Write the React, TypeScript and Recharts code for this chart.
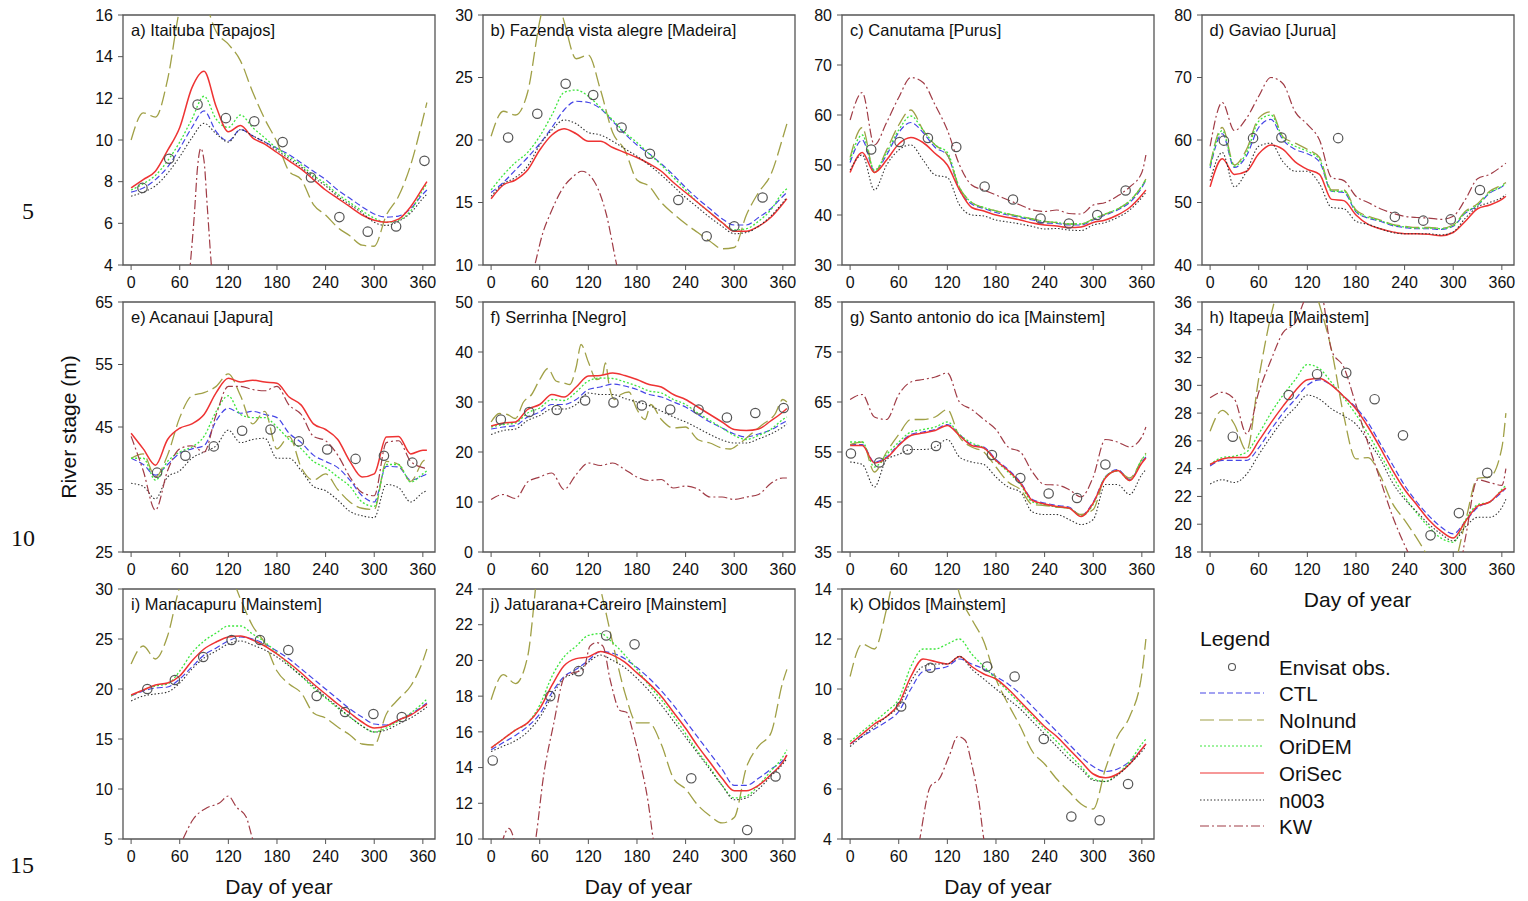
import { ComposedChart, Line, ReferenceArea, Scatter, XAxis, YAxis } from 'recharts'

// day-of-year grid shared by most simulated series
const DAYS = [0, 15, 30, 45, 60, 75, 90, 105, 120, 135, 150, 165, 180, 195, 210, 225, 240, 255, 270, 285, 300, 315, 330, 345, 360, 365]
const X_TICKS = [0, 60, 120, 180, 240, 300, 360]

// a) Itaituba [Tapajos]
const A_CTL = [7.5, 7.7, 8.1, 8.7, 9.6, 10.6, 11.4, 10.4, 9.95, 10.5, 10.2, 9.9, 9.6, 9.3, 8.9, 8.5, 8.1, 7.6, 7.2, 6.8, 6.45, 6.3, 6.35, 6.7, 7.4, 7.6]
const A_NOINUND = [10.0, 11.3, 11.1, 12.9, 16.3, 18.0, 16.8, 15.2, 14.6, 13.8, 12.3, 11.0, 9.9, 8.5, 8.1, 6.9, 6.4, 5.8, 5.4, 4.95, 4.9, 6.4, 7.3, 8.8, 11.0, 11.8]
const A_ORIDEM = [7.6, 7.9, 8.3, 9.0, 9.9, 11.0, 12.1, 11.0, 10.6, 11.2, 10.6, 10.1, 9.6, 9.2, 8.8, 8.3, 7.9, 7.4, 7.0, 6.6, 6.25, 6.05, 6.15, 6.6, 7.6, 7.9]
const A_ORISEC = [7.7, 8.1, 8.5, 9.5, 10.6, 12.5, 13.3, 11.6, 10.4, 10.7, 10.1, 9.8, 9.4, 9.0, 8.6, 8.1, 7.6, 7.2, 6.8, 6.4, 6.15, 6.05, 6.2, 6.8, 7.7, 8.0]
const A_N003 = [7.3, 7.5, 7.8, 8.4, 9.2, 10.1, 10.8, 10.3, 9.9, 10.5, 10.2, 9.9, 9.5, 9.1, 8.7, 8.2, 7.8, 7.3, 6.9, 6.5, 6.05, 5.9, 6.1, 6.5, 7.2, 7.4]
const A_KW_DAYS = [66, 73, 78, 82, 86, 90, 94, 99, 106]
const A_KW = [1, 4.0, 6.4, 8.7, 9.6, 9.0, 6.8, 4.0, 1]
const A_OBS_DAYS = [14, 47, 82, 117, 152, 187, 222, 257, 292, 327, 362]
const A_OBS = [7.7, 9.1, 11.7, 11.05, 10.9, 9.9, 8.2, 6.3, 5.6, 5.85, 9.0]

// b) Fazenda vista alegre [Madeira]
const B_CTL = [15.8, 16.6, 17.6, 18.6, 19.7, 21.0, 22.4, 23.1, 23.0, 22.5, 21.5, 20.5, 19.6, 18.9, 18.1, 17.2, 16.2, 15.3, 14.5, 13.7, 13.2, 13.2, 13.8, 14.5, 15.5, 15.8]
const B_NOINUND = [20.3, 22.3, 22.0, 23.8, 29.5, 33.0, 29.5, 26.5, 26.8, 24.0, 20.6, 19.2, 16.8, 16.3, 15.0, 14.1, 13.3, 12.6, 11.9, 11.3, 11.4, 14.0, 15.8, 17.2, 20.2, 21.3]
const B_ORIDEM = [16.0, 17.2, 18.2, 19.0, 20.3, 22.0, 23.8, 24.0, 23.5, 22.6, 21.6, 20.6, 19.8, 18.9, 18.0, 17.0, 16.0, 15.0, 14.2, 13.4, 12.8, 12.9, 13.5, 14.4, 15.8, 16.1]
const B_ORISEC = [15.3, 16.4, 16.8, 17.6, 19.2, 20.4, 20.9, 20.5, 19.9, 19.9, 19.4, 19.0, 18.6, 18.1, 17.5, 16.6, 15.8, 15.0, 14.2, 13.4, 12.7, 12.7, 13.1, 13.8, 14.9, 15.3]
const B_N003 = [15.5, 16.5, 17.0, 17.9, 19.6, 20.8, 21.6, 21.3, 20.6, 20.4, 19.9, 19.3, 18.7, 18.0, 17.2, 16.3, 15.4, 14.6, 13.8, 13.1, 12.5, 12.6, 13.1, 13.9, 15.0, 15.4]
const B_KW_DAYS = [45, 54, 64, 73, 89, 100, 112, 128, 142, 155, 162]
const B_KW = [7.5, 10, 12.6, 14.1, 16.2, 17.0, 17.5, 16.6, 14.1, 10, 8]
const B_OBS_DAYS = [21, 57, 92, 126, 161, 196, 231, 266, 300, 335]
const B_OBS = [20.2, 22.1, 24.5, 23.6, 21.0, 18.9, 15.2, 12.3, 13.1, 15.4]

// c) Canutama [Purus]
const C_CTL = [50.5, 55.0, 48.8, 52.0, 56.5, 58.5, 56.5, 53.5, 52.0, 45.0, 42.2, 41.3, 40.5, 40.0, 39.5, 39.0, 38.4, 38.3, 38.0, 38.0, 39.0, 40.0, 41.0, 42.5, 45.5, 47.0]
const C_NOINUND = [51.5, 57.5, 48.5, 53.0, 58.0, 61.0, 57.0, 54.0, 52.0, 45.5, 42.5, 41.5, 40.8, 40.2, 39.7, 39.2, 38.7, 38.5, 38.2, 38.2, 39.2, 40.2, 41.2, 42.8, 45.8, 47.2]
const C_ORIDEM = [51.0, 56.0, 49.0, 52.5, 57.0, 59.8, 57.0, 54.0, 52.5, 45.5, 42.5, 41.5, 40.8, 40.2, 39.7, 39.2, 38.7, 38.5, 38.2, 38.2, 39.2, 40.2, 41.2, 42.8, 45.8, 47.0]
const C_ORISEC = [48.5, 52.5, 48.5, 51.0, 54.2, 55.5, 54.5, 52.3, 50.0, 45.0, 41.5, 40.8, 40.0, 39.5, 39.0, 38.4, 38.0, 37.8, 37.5, 37.6, 38.5, 39.0, 40.0, 41.5, 44.0, 45.0]
const C_N003 = [49.0, 52.0, 45.0, 50.0, 53.0, 54.0, 51.0, 48.0, 47.5, 42.0, 40.0, 39.8, 39.0, 38.6, 38.2, 37.7, 37.2, 37.3, 37.0, 36.9, 38.0, 38.5, 39.5, 41.0, 43.5, 44.5]
const C_KW = [59.0, 64.5, 54.0, 58.5, 63.5, 67.5, 66.5, 62.0, 57.0, 50.0, 46.0, 45.0, 44.0, 43.0, 42.0, 41.0, 40.7, 41.0, 40.3, 40.2, 42.0, 42.5, 43.8, 45.6, 48.5, 52.0]
const C_OBS_DAYS = [26, 61, 96, 131, 166, 201, 235, 270, 305, 340]
const C_OBS = [53.1, 54.6, 55.4, 53.6, 45.7, 43.1, 39.3, 38.3, 40.0, 44.9]

// d) Gaviao [Jurua]
const D_CTL = [55.5, 61.0, 55.6, 57.5, 62.0, 63.3, 60.0, 58.5, 57.8, 56.5, 51.8, 51.6, 48.5, 47.5, 47.0, 46.3, 46.0, 45.8, 45.8, 45.7, 46.2, 48.3, 49.5, 51.5, 52.5, 53.0]
const D_NOINUND = [56.0, 62.0, 56.0, 58.5, 63.5, 64.5, 60.5, 59.5, 58.5, 57.2, 52.0, 52.0, 48.8, 47.8, 47.2, 46.5, 46.2, 46.0, 46.0, 45.9, 46.4, 48.6, 49.8, 51.8, 52.8, 53.2]
const D_ORIDEM = [55.8, 61.5, 55.8, 58.0, 63.0, 64.0, 60.3, 59.0, 58.2, 56.9, 51.8, 51.8, 48.6, 47.6, 47.1, 46.4, 46.1, 45.9, 45.9, 45.8, 46.3, 48.4, 49.6, 51.6, 52.6, 53.1]
const D_ORISEC = [52.5, 57.0, 54.5, 55.0, 57.8, 59.2, 58.5, 56.5, 55.3, 54.5, 50.5, 50.3, 48.0, 46.5, 45.8, 45.3, 45.0, 45.0, 44.9, 44.7, 45.2, 47.0, 49.0, 49.6, 50.5, 51.0]
const D_N003 = [53.5, 58.0, 52.5, 55.0, 59.0, 59.5, 56.5, 55.0, 55.0, 53.0, 49.2, 49.0, 47.0, 46.5, 45.8, 45.2, 45.0, 45.0, 45.0, 44.8, 45.3, 47.5, 49.3, 50.0, 50.8, 51.3]
const D_KW = [59.0, 66.0, 61.5, 63.5, 67.0, 70.0, 69.0, 64.5, 62.5, 60.0, 54.0, 53.5, 51.0, 50.0, 49.0, 48.3, 47.8, 47.6, 47.5, 47.3, 47.8, 50.5, 53.8, 54.5, 55.8, 56.3]
const D_OBS_DAYS = [17, 53, 88, 158, 228, 263, 297, 333]
const D_OBS = [59.9, 60.3, 60.4, 60.3, 47.7, 47.1, 47.3, 52.0]

// e) Acanaui [Japura]
const E_CTL = [40.0, 39.0, 37.3, 39.0, 40.8, 41.5, 42.0, 46.0, 48.0, 47.2, 47.5, 47.0, 46.5, 44.0, 42.5, 40.5, 39.5, 38.5, 36.5, 34.0, 33.0, 38.7, 38.6, 36.5, 37.2, 37.5]
const E_NOINUND = [40.0, 40.7, 37.0, 40.5, 46.5, 50.0, 50.5, 51.5, 53.5, 50.0, 45.5, 47.5, 41.5, 43.5, 38.5, 36.5, 37.5, 35.0, 33.0, 32.0, 31.8, 39.5, 39.0, 36.3, 39.5, 40.0]
const E_ORIDEM = [40.0, 40.0, 36.5, 39.5, 41.0, 41.8, 43.5, 47.5, 50.0, 47.0, 46.5, 46.5, 45.0, 43.0, 41.5, 39.5, 38.5, 37.0, 35.5, 33.0, 32.3, 39.0, 39.0, 36.2, 37.5, 38.0]
const E_ORISEC = [44.0, 41.5, 38.9, 43.0, 44.8, 45.5, 47.0, 50.5, 52.8, 52.2, 52.5, 52.2, 52.0, 49.8, 48.5, 45.5, 44.6, 43.0, 39.5, 37.0, 37.5, 43.4, 43.5, 40.7, 41.3, 41.3]
const E_N003 = [36.0, 35.5, 33.5, 37.0, 38.0, 40.0, 41.0, 42.0, 44.5, 42.5, 43.0, 43.2, 40.0, 40.0, 38.0, 35.5, 34.8, 33.3, 31.5, 30.8, 30.5, 35.8, 35.3, 33.0, 34.5, 34.8]
const E_KW = [43.5, 38.0, 31.7, 38.0, 41.5, 42.0, 41.0, 47.0, 51.5, 51.5, 51.0, 50.8, 51.5, 48.5, 47.0, 43.5, 42.8, 40.5, 37.0, 34.5, 34.0, 42.5, 42.8, 39.5, 38.5, 38.3]
const E_OBS_DAYS = [32, 67, 102, 137, 172, 207, 242, 277, 312, 347]
const E_OBS = [37.7, 40.4, 41.9, 44.4, 44.6, 42.7, 41.4, 39.9, 40.4, 39.3]

// f) Serrinha [Negro]
const F_CTL = [24.6, 25.0, 25.3, 27.0, 28.0, 29.5, 29.5, 30.5, 32.5, 33.0, 33.6, 33.2, 32.5, 31.5, 31.0, 30.0, 29.0, 27.5, 26.0, 24.8, 23.6, 23.0, 23.6, 24.4, 25.8, 26.2]
const F_NOINUND_DAYS = [0, 10, 20, 30, 40, 50, 60, 70, 80, 90, 97, 105, 111, 120, 130, 137, 141, 146, 152, 160, 170, 180, 190, 197, 210, 225, 240, 255, 270, 285, 295, 305, 320, 335, 350, 360, 365]
const F_NOINUND = [26.0, 27.7, 27.5, 26.7, 30.0, 31.5, 34.5, 36.7, 34.2, 33.8, 33.5, 37.0, 41.5, 38.0, 34.5, 35.0, 37.8, 33.0, 30.5, 31.5, 32.0, 28.5, 26.5, 29.5, 26.5, 24.8, 25.0, 22.5, 21.8, 20.8, 20.6, 21.5, 23.5, 25.5, 27.5, 30.5, 30.0]
const F_ORIDEM = [25.0, 25.5, 25.8, 27.8, 28.8, 30.5, 30.3, 32.0, 34.2, 34.8, 34.7, 34.0, 33.2, 32.2, 31.8, 30.5, 29.5, 27.8, 26.3, 24.8, 23.3, 22.5, 23.3, 24.5, 26.5, 27.0]
const F_ORISEC = [25.2, 25.8, 26.0, 28.5, 29.5, 31.5, 31.0, 33.0, 35.2, 35.3, 35.8, 35.3, 34.5, 33.5, 33.0, 31.5, 30.5, 29.0, 27.5, 26.0, 24.5, 24.3, 24.6, 26.2, 28.0, 28.7]
const F_N003 = [23.5, 24.3, 24.6, 26.3, 27.3, 28.6, 28.6, 29.5, 31.8, 31.5, 31.5, 30.7, 30.0, 29.3, 28.2, 27.0, 26.0, 24.8, 23.5, 22.4, 21.8, 21.8, 22.6, 23.6, 25.0, 25.6]
const F_KW = [10.5, 11.5, 10.7, 14.0, 15.0, 15.8, 12.5, 15.5, 17.8, 17.3, 17.8, 16.5, 15.0, 14.3, 14.5, 12.8, 13.2, 12.6, 11.0, 11.0, 10.5, 11.0, 11.5, 13.7, 14.8, 14.8]
const F_OBS_DAYS = [12, 47, 81, 116, 151, 186, 221, 256, 291, 326, 361]
const F_OBS = [26.5, 28.0, 28.4, 30.3, 29.9, 29.3, 28.5, 28.5, 26.9, 27.8, 28.8]

// g) Santo antonio do ica [Mainstem]
const G_CTL = [56.5, 56.5, 53.0, 54.0, 56.5, 58.5, 59.0, 59.5, 60.5, 58.5, 56.5, 56.0, 53.5, 51.5, 49.0, 45.5, 44.8, 44.3, 44.0, 42.3, 45.0, 50.0, 51.5, 49.5, 53.0, 54.0]
const G_NOINUND = [56.5, 57.0, 51.0, 55.0, 58.5, 61.5, 61.5, 62.0, 63.5, 58.0, 56.0, 55.0, 52.0, 49.0, 47.5, 44.5, 44.3, 44.0, 43.7, 42.5, 43.5, 50.0, 51.2, 49.8, 53.5, 54.8]
const G_ORIDEM = [57.0, 57.0, 52.0, 54.5, 57.0, 59.0, 59.5, 60.0, 61.0, 58.5, 56.8, 55.8, 53.2, 51.0, 48.5, 45.0, 44.5, 44.0, 43.8, 42.2, 44.5, 50.0, 51.3, 49.3, 53.5, 54.5]
const G_ORISEC = [56.3, 56.3, 52.8, 53.8, 56.3, 58.3, 58.8, 59.3, 60.3, 58.3, 56.3, 55.8, 53.3, 51.3, 48.8, 45.3, 44.6, 44.1, 43.8, 42.1, 44.8, 49.8, 51.3, 49.3, 52.8, 53.8]
const G_N003 = [53.0, 52.5, 48.0, 53.5, 54.5, 55.5, 55.5, 56.0, 57.5, 54.0, 53.0, 52.5, 50.0, 48.0, 47.0, 43.0, 42.5, 42.5, 41.5, 40.5, 41.5, 48.5, 48.5, 46.5, 50.5, 51.5]
const G_KW = [65.5, 66.5, 62.0, 61.5, 66.5, 69.0, 69.5, 70.0, 70.8, 65.0, 63.5, 61.5, 59.5, 56.0, 55.0, 51.0, 48.5, 48.4, 47.5, 46.0, 50.0, 57.5, 57.0, 56.0, 58.0, 60.0]
const G_OBS_DAYS = [1, 36, 71, 106, 175, 210, 245, 280, 315]
const G_OBS = [54.7, 52.9, 55.5, 56.2, 54.4, 49.8, 46.7, 45.8, 52.5]

// h) Itapeua [Mainstem]
const H_CTL = [24.2, 24.6, 24.6, 24.6, 25.5, 26.8, 28.0, 29.0, 30.0, 30.4, 30.0, 29.2, 28.4, 27.3, 25.8, 24.3, 22.8, 21.6, 20.6, 19.8, 19.3, 20.2, 21.2, 21.6, 22.3, 22.6]
const H_NOINUND = [26.7, 28.2, 27.2, 25.3, 30.5, 35.0, 38.0, 39.0, 38.5, 35.8, 32.5, 27.8, 24.7, 24.8, 23.5, 21.5, 20.3, 19.0, 17.6, 16.5, 17.0, 20.2, 23.3, 23.4, 25.5, 28.0]
const H_ORIDEM = [24.3, 24.8, 24.9, 25.2, 26.5, 28.0, 29.3, 30.4, 31.5, 31.2, 30.2, 29.1, 27.9, 26.5, 25.0, 23.5, 22.0, 20.8, 19.8, 19.0, 18.7, 20.3, 21.4, 21.6, 22.5, 22.8]
const H_ORISEC = [24.3, 24.7, 24.8, 24.8, 26.0, 27.3, 28.5, 29.6, 30.4, 30.5, 30.0, 29.2, 28.3, 27.0, 25.5, 23.9, 22.5, 21.4, 20.3, 19.5, 19.0, 20.2, 21.3, 21.6, 22.4, 22.6]
const H_N003 = [22.9, 23.2, 23.0, 23.6, 25.0, 26.3, 27.5, 28.4, 29.3, 29.0, 28.3, 27.8, 27.2, 26.0, 24.7, 23.0, 21.8, 20.9, 20.0, 19.3, 18.8, 19.8, 20.5, 20.5, 21.2, 21.8]
const H_KW = [29.1, 29.5, 29.0, 26.5, 29.5, 31.8, 33.8, 34.5, 36.5, 37.0, 32.5, 31.3, 28.6, 25.8, 23.2, 20.6, 18.5, 16.8, 15.5, 14.5, 14.5, 19.0, 23.2, 23.0, 22.8, 24.0]
const H_OBS_DAYS = [28, 97, 132, 168, 203, 238, 272, 307, 342]
const H_OBS = [26.3, 29.3, 30.8, 30.9, 29.0, 26.4, 19.2, 20.8, 23.7]

// i) Manacapuru [Mainstem]
const I_CTL = [19.3, 19.8, 20.1, 20.2, 21.0, 22.2, 23.4, 24.1, 24.8, 25.2, 25.0, 24.5, 23.8, 23.0, 22.0, 21.0, 20.0, 19.0, 18.0, 17.2, 16.5, 16.4, 16.9, 17.5, 18.3, 18.6]
const I_NOINUND = [22.5, 24.3, 23.0, 25.3, 30.2, 32.5, 33.5, 33.5, 32.0, 29.0, 26.3, 24.6, 21.8, 20.5, 19.6, 17.6, 17.1, 16.2, 15.4, 14.5, 14.4, 17.5, 19.0, 20.3, 22.8, 24.0]
const I_ORIDEM = [19.3, 19.9, 20.3, 20.5, 21.8, 23.6, 24.8, 25.6, 26.3, 26.3, 25.5, 24.7, 23.6, 22.4, 21.3, 20.1, 19.1, 18.1, 17.2, 16.3, 15.7, 16.1, 16.8, 17.6, 18.6, 19.0]
const I_ORISEC = [19.4, 19.9, 20.4, 20.6, 21.3, 22.8, 24.0, 24.7, 25.2, 25.3, 24.9, 24.3, 23.5, 22.6, 21.6, 20.5, 19.5, 18.5, 17.6, 16.7, 16.1, 16.3, 16.9, 17.4, 18.2, 18.5]
const I_N003 = [18.8, 19.3, 19.5, 19.7, 20.6, 22.0, 23.1, 23.8, 24.5, 24.8, 24.4, 23.9, 23.2, 22.3, 21.3, 20.3, 19.2, 18.2, 17.2, 16.3, 15.7, 15.9, 16.5, 17.1, 17.9, 18.2]
const I_KW_DAYS = [55, 64, 76, 93, 109, 120, 130, 142, 150, 158]
const I_KW = [3.5, 5, 6.9, 8.1, 8.6, 9.3, 8.2, 7.2, 5, 3.5]
const I_OBS_DAYS = [20, 54, 89, 124, 159, 194, 229, 264, 299, 334]
const I_OBS = [20.0, 20.9, 23.2, 24.9, 24.9, 23.9, 19.3, 17.7, 17.5, 17.2]

// j) Jatuarana+Careiro [Mainstem]
const J_CTL = [15.0, 15.4, 15.8, 16.3, 17.0, 18.2, 19.1, 19.5, 20.0, 20.5, 20.4, 20.1, 19.6, 19.0, 18.3, 17.5, 16.6, 15.7, 14.8, 13.9, 13.0, 13.0, 13.4, 13.9, 14.4, 14.7]
const J_NOINUND = [17.8, 19.2, 18.7, 20.2, 26.0, 28.0, 29.0, 28.0, 26.5, 24.0, 21.0, 18.2, 16.5, 16.5, 15.3, 13.4, 12.8, 11.9, 11.3, 10.9, 11.2, 14.0, 15.2, 15.9, 18.8, 19.5]
const J_ORIDEM = [15.1, 15.6, 16.1, 16.5, 17.5, 19.1, 20.2, 20.8, 21.4, 21.5, 21.0, 20.3, 19.5, 18.6, 17.8, 16.9, 15.9, 14.9, 14.0, 13.0, 12.3, 12.4, 13.0, 13.8, 14.6, 15.0]
const J_ORISEC = [15.1, 15.6, 16.1, 16.5, 17.3, 18.6, 19.7, 20.1, 20.2, 20.5, 20.3, 19.9, 19.3, 18.7, 18.0, 17.1, 16.2, 15.2, 14.3, 13.4, 12.7, 12.7, 13.0, 13.6, 14.3, 14.7]
const J_N003 = [14.9, 15.2, 15.5, 16.0, 16.8, 18.0, 19.0, 19.3, 19.9, 20.3, 20.0, 19.6, 19.0, 18.3, 17.5, 16.6, 15.7, 14.8, 13.9, 13.0, 12.2, 12.3, 12.8, 13.5, 14.2, 14.5]
const J_KW_DAYS = [8, 22, 36, 48, 56, 64, 77, 91, 101, 114, 122, 130, 138, 147, 159, 167, 175, 184, 194, 200, 206]
const J_KW = [8.8, 10.6, 8.8, 8.2, 10.3, 13.3, 16.4, 19.1, 19.3, 19.5, 20.8, 21.0, 20.8, 18.9, 17.2, 17.1, 16.0, 14.3, 12.0, 10.0, 8.5]
const J_OBS_DAYS = [2, 73, 108, 142, 177, 247, 316, 351]
const J_OBS = [14.4, 18.0, 19.4, 21.4, 20.9, 13.4, 10.5, 13.5]

// k) Obidos [Mainstem]
const K_CTL = [7.8, 8.1, 8.4, 8.7, 9.1, 10.0, 10.7, 10.8, 10.9, 11.2, 11.0, 10.8, 10.5, 10.2, 9.8, 9.3, 8.8, 8.3, 7.8, 7.3, 6.9, 6.7, 6.8, 7.1, 7.6, 7.8]
const K_NOINUND = [10.5, 11.8, 11.6, 13.2, 15.5, 17.0, 18.0, 17.5, 16.0, 13.8, 12.8, 11.9, 10.4, 9.4, 8.5, 7.5, 7.0, 6.4, 5.9, 5.4, 5.2, 6.8, 8.1, 8.9, 10.6, 12.0]
const K_ORIDEM = [7.9, 8.3, 8.7, 9.1, 9.6, 10.9, 11.6, 11.6, 11.8, 12.0, 11.4, 10.9, 10.4, 9.9, 9.4, 8.9, 8.4, 7.9, 7.4, 6.9, 6.4, 6.3, 6.6, 7.1, 7.8, 8.0]
const K_ORISEC = [7.8, 8.2, 8.6, 8.9, 9.4, 10.5, 11.2, 11.1, 11.0, 11.3, 10.9, 10.6, 10.4, 10.0, 9.5, 9.0, 8.5, 8.1, 7.6, 7.1, 6.6, 6.45, 6.6, 7.0, 7.6, 7.8]
const K_N003 = [7.7, 8.1, 8.5, 8.9, 9.3, 10.3, 10.9, 11.0, 11.0, 11.3, 10.8, 10.4, 10.0, 9.6, 9.2, 8.7, 8.2, 7.7, 7.2, 6.8, 6.35, 6.3, 6.55, 7.0, 7.5, 7.7]
const K_KW_DAYS = [78, 86, 99, 110, 122, 133, 142, 150, 159, 165, 172]
const K_KW = [2.5, 4, 6.1, 6.4, 7.3, 8.1, 7.95, 7.0, 5.5, 4, 3]
const K_OBS_DAYS = [63, 99, 169, 203, 239, 273, 308, 343]
const K_OBS = [9.3, 10.85, 10.9, 10.5, 8.0, 4.9, 4.75, 6.2]

const FONT = '"Liberation Sans", Arial, Helvetica, sans-serif'
const AXIS = '#555'

type Style = { key: string; label: string; color: string; dash?: string; width: number }

const STYLES: Style[] = [
  { key: 'ctl', label: 'CTL', color: '#4646e6', dash: '6 3', width: 1.2 },
  { key: 'noinund', label: 'NoInund', color: '#a0a046', dash: '14 5', width: 1.3 },
  { key: 'oridem', label: 'OriDEM', color: '#3ee63e', dash: '2 2', width: 1.3 },
  { key: 'orisec', label: 'OriSec', color: '#ee3333', width: 1.5 },
  { key: 'n003', label: 'n003', color: '#333333', dash: '1.5 2', width: 1.1 },
  { key: 'kw', label: 'KW', color: '#a03c46', dash: '9 3 2 3', width: 1.2 },
]

type PanelDef = {
  title: string
  left: number
  top: number
  y: [number, number]
  yTicks: number[]
  series: Record<string, { days: number[]; vals: number[] }>
  obsDays: number[]
  obs: number[]
}

const COLS = [123, 482.5, 842, 1201.5]
const ROWS = [15, 302, 589]
const BOX_W = 312
const BOX_H = 250

const steps = (lo: number, hi: number, step: number) => {
  const out: number[] = []
  for (let v = lo; v <= hi + 1e-9; v += step) out.push(v)
  return out
}

const grid = (vals: number[]) => ({ days: DAYS, vals })

const PANELS: PanelDef[] = [
  { title: 'a) Itaituba [Tapajos]', left: COLS[0], top: ROWS[0], y: [4, 16], yTicks: steps(4, 16, 2),
    series: { ctl: grid(A_CTL), noinund: grid(A_NOINUND), oridem: grid(A_ORIDEM), orisec: grid(A_ORISEC), n003: grid(A_N003), kw: { days: A_KW_DAYS, vals: A_KW } },
    obsDays: A_OBS_DAYS, obs: A_OBS },
  { title: 'b) Fazenda vista alegre [Madeira]', left: COLS[1], top: ROWS[0], y: [10, 30], yTicks: steps(10, 30, 5),
    series: { ctl: grid(B_CTL), noinund: grid(B_NOINUND), oridem: grid(B_ORIDEM), orisec: grid(B_ORISEC), n003: grid(B_N003), kw: { days: B_KW_DAYS, vals: B_KW } },
    obsDays: B_OBS_DAYS, obs: B_OBS },
  { title: 'c) Canutama [Purus]', left: COLS[2], top: ROWS[0], y: [30, 80], yTicks: steps(30, 80, 10),
    series: { ctl: grid(C_CTL), noinund: grid(C_NOINUND), oridem: grid(C_ORIDEM), orisec: grid(C_ORISEC), n003: grid(C_N003), kw: grid(C_KW) },
    obsDays: C_OBS_DAYS, obs: C_OBS },
  { title: 'd) Gaviao [Jurua]', left: COLS[3], top: ROWS[0], y: [40, 80], yTicks: steps(40, 80, 10),
    series: { ctl: grid(D_CTL), noinund: grid(D_NOINUND), oridem: grid(D_ORIDEM), orisec: grid(D_ORISEC), n003: grid(D_N003), kw: grid(D_KW) },
    obsDays: D_OBS_DAYS, obs: D_OBS },
  { title: 'e) Acanaui [Japura]', left: COLS[0], top: ROWS[1], y: [25, 65], yTicks: steps(25, 65, 10),
    series: { ctl: grid(E_CTL), noinund: grid(E_NOINUND), oridem: grid(E_ORIDEM), orisec: grid(E_ORISEC), n003: grid(E_N003), kw: grid(E_KW) },
    obsDays: E_OBS_DAYS, obs: E_OBS },
  { title: 'f) Serrinha [Negro]', left: COLS[1], top: ROWS[1], y: [0, 50], yTicks: steps(0, 50, 10),
    series: { ctl: grid(F_CTL), noinund: { days: F_NOINUND_DAYS, vals: F_NOINUND }, oridem: grid(F_ORIDEM), orisec: grid(F_ORISEC), n003: grid(F_N003), kw: grid(F_KW) },
    obsDays: F_OBS_DAYS, obs: F_OBS },
  { title: 'g) Santo antonio do ica [Mainstem]', left: COLS[2], top: ROWS[1], y: [35, 85], yTicks: steps(35, 85, 10),
    series: { ctl: grid(G_CTL), noinund: grid(G_NOINUND), oridem: grid(G_ORIDEM), orisec: grid(G_ORISEC), n003: grid(G_N003), kw: grid(G_KW) },
    obsDays: G_OBS_DAYS, obs: G_OBS },
  { title: 'h) Itapeua [Mainstem]', left: COLS[3], top: ROWS[1], y: [18, 36], yTicks: steps(18, 36, 2),
    series: { ctl: grid(H_CTL), noinund: grid(H_NOINUND), oridem: grid(H_ORIDEM), orisec: grid(H_ORISEC), n003: grid(H_N003), kw: grid(H_KW) },
    obsDays: H_OBS_DAYS, obs: H_OBS },
  { title: 'i) Manacapuru [Mainstem]', left: COLS[0], top: ROWS[2], y: [5, 30], yTicks: steps(5, 30, 5),
    series: { ctl: grid(I_CTL), noinund: grid(I_NOINUND), oridem: grid(I_ORIDEM), orisec: grid(I_ORISEC), n003: grid(I_N003), kw: { days: I_KW_DAYS, vals: I_KW } },
    obsDays: I_OBS_DAYS, obs: I_OBS },
  { title: 'j) Jatuarana+Careiro [Mainstem]', left: COLS[1], top: ROWS[2], y: [10, 24], yTicks: steps(10, 24, 2),
    series: { ctl: grid(J_CTL), noinund: grid(J_NOINUND), oridem: grid(J_ORIDEM), orisec: grid(J_ORISEC), n003: grid(J_N003), kw: { days: J_KW_DAYS, vals: J_KW } },
    obsDays: J_OBS_DAYS, obs: J_OBS },
  { title: 'k) Obidos [Mainstem]', left: COLS[2], top: ROWS[2], y: [4, 14], yTicks: steps(4, 14, 2),
    series: { ctl: grid(K_CTL), noinund: grid(K_NOINUND), oridem: grid(K_ORIDEM), orisec: grid(K_ORISEC), n003: grid(K_N003), kw: { days: K_KW_DAYS, vals: K_KW } },
    obsDays: K_OBS_DAYS, obs: K_OBS },
]

const tickStyle = { fill: '#111', fontSize: 16, fontFamily: FONT }

const ObsCircle = (props: any) => {
  if (props.cx == null || props.cy == null) return null
  return <circle cx={props.cx} cy={props.cy} r={4.7} fill="none" stroke="#555" strokeWidth={1.2} />
}

function Panel({ p }: { p: PanelDef }) {
  const obsRows = p.obsDays.map((day, i) => ({ day, obs: p.obs[i] }))
  return (
    <div style={{ position: 'absolute', left: p.left - 50, top: p.top - 10 }}>
      <ComposedChart width={BOX_W + 60} height={BOX_H + 40} margin={{ top: 10, right: 10, bottom: 0, left: 10 }}>
        <XAxis type="number" dataKey="day" domain={[-10, 375]} ticks={X_TICKS} interval={0} height={30}
          axisLine={false} tickLine={{ stroke: AXIS }} tickSize={5} tickMargin={7} tick={tickStyle} />
        <YAxis type="number" domain={p.y} ticks={p.yTicks} interval={0} width={40} allowDataOverflow
          axisLine={false} tickLine={{ stroke: AXIS }} tickSize={5} tickMargin={5} tick={tickStyle} />
        {STYLES.map(s => {
          const src = p.series[s.key]
          const rows = src.days.map((day, i) => ({ day, [s.key]: src.vals[i] }))
          return (
            <Line key={s.key} data={rows} dataKey={s.key} type="monotone" stroke={s.color} strokeWidth={s.width}
              strokeDasharray={s.dash} dot={false} activeDot={false} isAnimationActive={false} />
          )
        })}
        <Scatter data={obsRows} dataKey="obs" shape={ObsCircle} isAnimationActive={false} />
        <ReferenceArea x1={-10} x2={375} y1={p.y[0]} y2={p.y[1]} fill="none" stroke={AXIS} strokeWidth={1.3} ifOverflow="visible" />
      </ComposedChart>
    </div>
  )
}

const LEGEND_ROWS = [693, 720, 746, 773, 800, 826]

export default function App() {
  return (
    <div style={{ position: 'absolute', left: 0, top: 0, width: 1528, height: 901, background: '#fff', fontFamily: FONT }}>
      {PANELS.map(p => <Panel key={p.title} p={p} />)}
      <svg width={1528} height={901} style={{ position: 'absolute', left: 0, top: 0, pointerEvents: 'none' }}>
        {PANELS.map(p => (
          <text key={p.title} x={p.left + 8} y={p.top + 15} dominantBaseline="central" fontSize={16.5} fontFamily={FONT} fill="#111">
            {p.title}
          </text>
        ))}
        <text x={68} y={427} transform="rotate(-90 68 427)" textAnchor="middle" dominantBaseline="central" fontSize={21} fontFamily={FONT} fill="#111">
          River stage (m)
        </text>
        {[[279, 886], [638.5, 886], [998, 886], [1357.5, 599]].map(([x, y]) => (
          <text key={`${x}`} x={x} y={y} textAnchor="middle" dominantBaseline="central" fontSize={21} fontFamily={FONT} fill="#111">
            Day of year
          </text>
        ))}
        <text x={34} y={211} textAnchor="end" dominantBaseline="central" fontSize={24} fontFamily='"Liberation Serif", "Times New Roman", serif' fill="#111">5</text>
        <text x={35} y={538} textAnchor="end" dominantBaseline="central" fontSize={24} fontFamily='"Liberation Serif", "Times New Roman", serif' fill="#111">10</text>
        <text x={34} y={865} textAnchor="end" dominantBaseline="central" fontSize={24} fontFamily='"Liberation Serif", "Times New Roman", serif' fill="#111">15</text>

        <text x={1200} y={638} dominantBaseline="central" fontSize={21} fontFamily={FONT} fill="#111">Legend</text>
        <circle cx={1232} cy={667} r={3.5} fill="none" stroke="#555" strokeWidth={1.1} />
        <text x={1279} y={667} dominantBaseline="central" fontSize={20.5} fontFamily={FONT} fill="#111">Envisat obs.</text>
        {STYLES.map((s, i) => (
          <g key={s.key}>
            <line x1={1200} x2={1264} y1={LEGEND_ROWS[i]} y2={LEGEND_ROWS[i]} stroke={s.color} strokeWidth={1.1} strokeDasharray={s.dash} />
            <text x={1279} y={LEGEND_ROWS[i]} dominantBaseline="central" fontSize={20.5} fontFamily={FONT} fill="#111">{s.label}</text>
          </g>
        ))}
      </svg>
    </div>
  )
}
